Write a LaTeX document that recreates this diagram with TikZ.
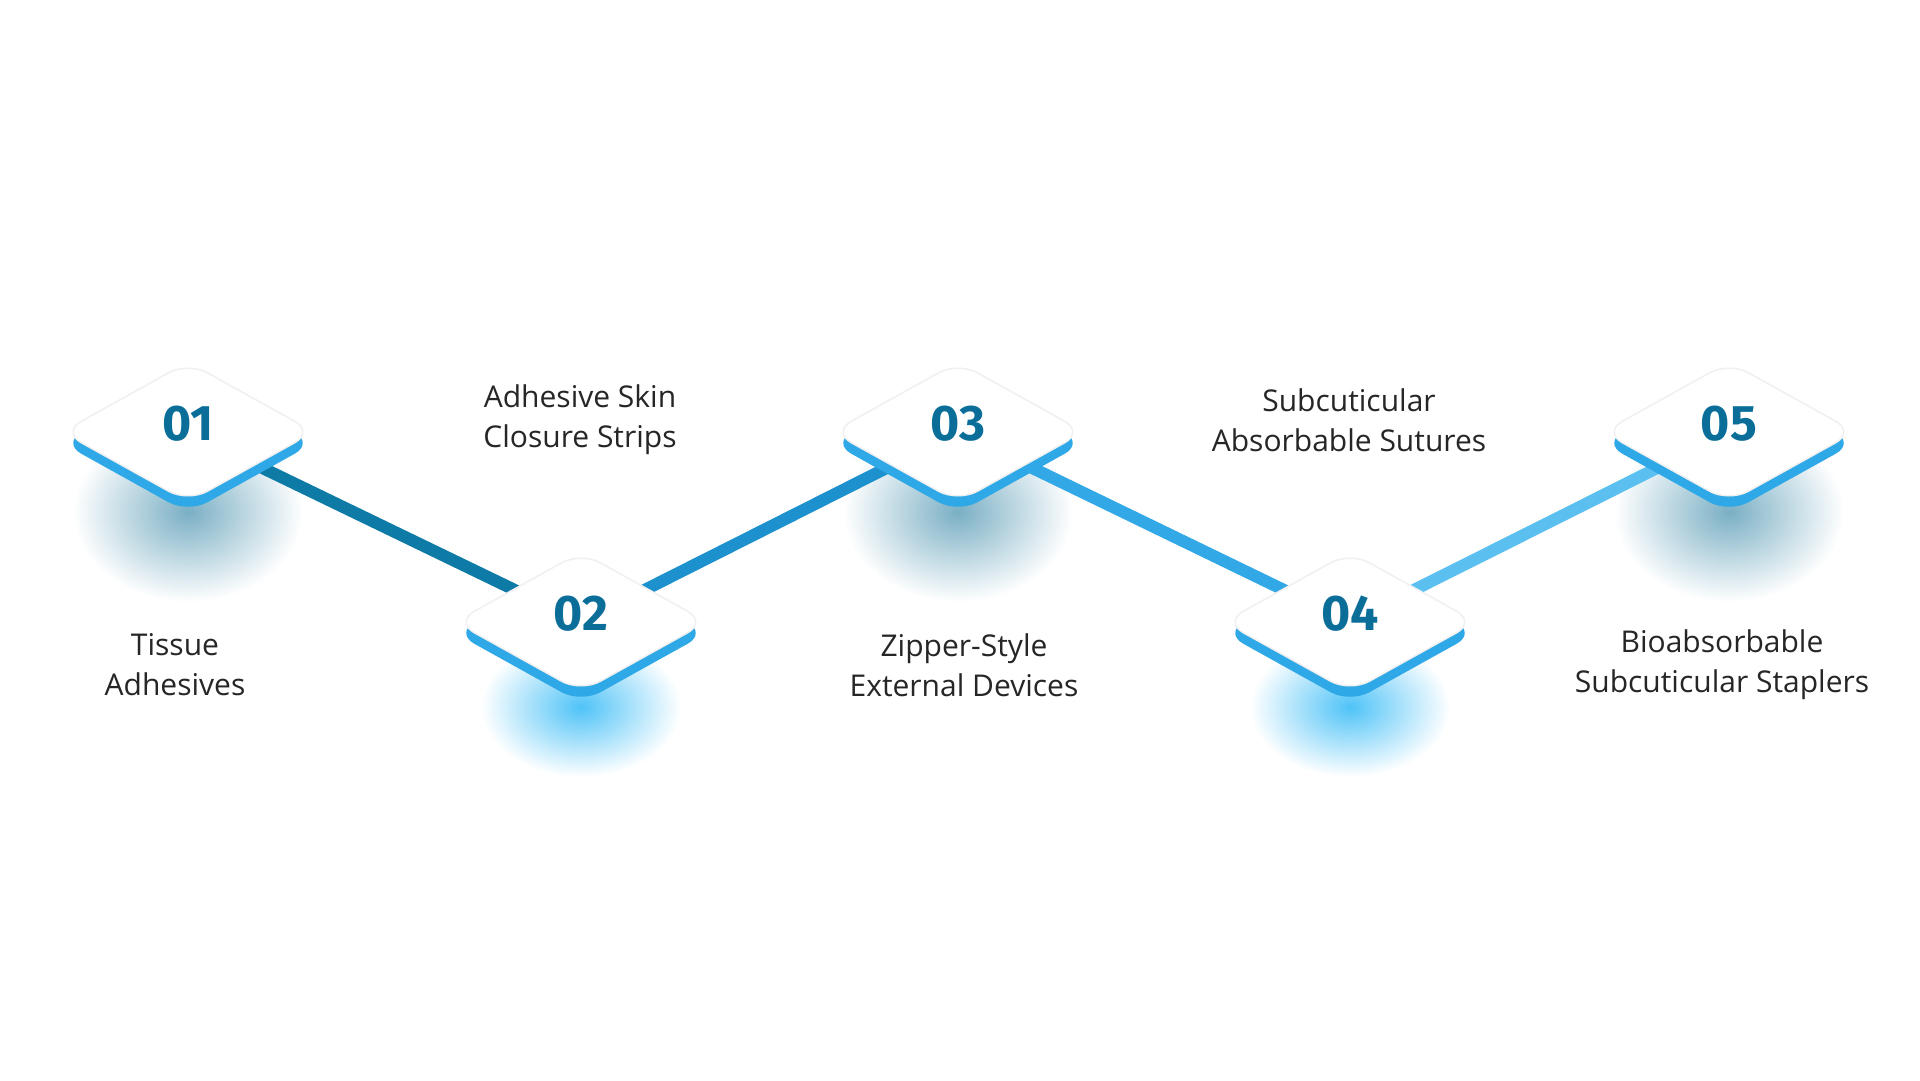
\documentclass[tikz,border=0pt]{standalone}
\usepackage{fontspec}
\setmainfont{Open Sans}
\newfontfamily\numfont{Fira Sans}
\begin{document}
\begin{tikzpicture}[x=1pt,y=-1pt,
  lbl/.style={align=center,font=\fontsize{30}{40}\selectfont,text=black!85},
  num/.style={font=\numfont\bfseries\fontsize{50}{50}\selectfont,text=numc},
  conn/.style={line width=12pt}]
\definecolor{numc}{HTML}{0B6E99}
\definecolor{rim}{HTML}{2EA8E6}
\definecolor{cA}{HTML}{0E7AA6}
\definecolor{cB}{HTML}{1D91CE}
\definecolor{cC}{HTML}{33A8E6}
\definecolor{cD}{HTML}{5BC0F0}
\useasboundingbox (0,0) rectangle (1920,1080);
\fill[white] (0,0) rectangle (1920,1080);
\coordinate (d1) at (188,432);
\coordinate (d2) at (581,622);
\coordinate (d3) at (958,432);
\coordinate (d4) at (1350,622);
\coordinate (d5) at (1729,432);
% glows
\definecolor{glA}{HTML}{7AAFC4}
\definecolor{glB}{HTML}{4FC3F7}
\foreach \c in {d1,d3,d5}{
  \begin{scope}[shift={(\c)}]
  \shade[inner color=glA,outer color=white] (0,80) ellipse (115 and 90);
  \end{scope}}
\foreach \c in {d2,d4}{
  \begin{scope}[shift={(\c)}]
  \shade[inner color=glB,outer color=white] (0,85) ellipse (100 and 70);
  \end{scope}}
% connectors
\draw[conn,cA] (d1) -- (d2);
\draw[conn,cB] (d2) -- (d3);
\draw[conn,cC] (d3) -- (d4);
\draw[conn,cD] (d4) -- (d5);
% diamonds
\foreach \c/\n in {d1/01,d2/02,d3/03,d4/04,d5/05}{
  \begin{scope}[shift={(\c)}]
  \begin{scope}
  \clip (-200,-120) rectangle (200,22);
  \draw[white,line width=16pt,fill=white,rounded corners=22pt] (-126,11)--(0,-59)--(126,11)--(0,81)--cycle;
  \end{scope}
  \fill[rim,rounded corners=22pt] (-126,11)--(0,-59)--(126,11)--(0,81)--cycle;
  \fill[white,draw=black!6,line width=1.5pt,rounded corners=22pt] (-126,0)--(0,-70)--(126,0)--(0,70)--cycle;
  \end{scope}
  \node[num] (n\n) at ([yshift=8]\c) {\n};
}
% labels
\node[lbl] (t1) at (175,665) {Tissue\\Adhesives};
\node[lbl] (t2) at (580,420) {Adhesive Skin\\Closure Strips};
\node[lbl] (t3) at (964,665) {Zipper-Style\\External Devices};
\node[lbl] (t4) at (1349,420) {Subcuticular\\Absorbable Sutures};
\node[lbl] (t5) at (1722,665) {Bioabsorbable\\Subcuticular Staplers};
\end{tikzpicture}
\end{document}
